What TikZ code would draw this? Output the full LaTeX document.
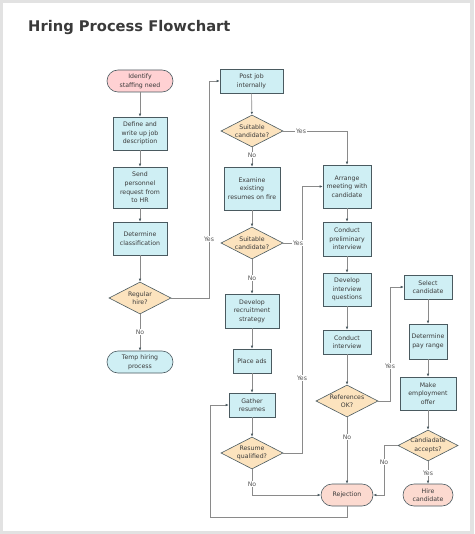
\documentclass[tikz,border=0pt]{standalone}
\usepackage{fontspec}
\setmainfont{DejaVu Sans}
\usetikzlibrary{arrows.meta,shapes.geometric}
\definecolor{procfill}{HTML}{CFEFF4}
\definecolor{bordc}{HTML}{4A5A60}
\definecolor{decfill}{HTML}{FCE3BE}
\definecolor{pinkfill}{HTML}{FFD1D3}
\definecolor{salfill}{HTML}{FCDAD0}
\definecolor{linec}{HTML}{8A8A8A}
\definecolor{txt}{HTML}{3A3A3A}
\definecolor{lblc}{HTML}{555555}
\definecolor{framec}{HTML}{E2E2E2}
\begin{document}
\begin{tikzpicture}[x=1pt,y=-1pt,
  base/.style={draw=bordc, line width=0.6pt, align=center, text=txt,
    font=\fontsize{6.2}{8.6}\selectfont, inner sep=0pt},
  procbox/.style 2 args={base, rectangle, fill=procfill, minimum width=#1, minimum height=#2},
  decbox/.style={base, diamond, fill=decfill, minimum width=62, minimum height=32, inner xsep=-12pt, inner ysep=-4pt},
  termbox/.style 2 args={base, rectangle, rounded corners=11pt, fill=#2, minimum width=#1, minimum height=22},
  arr/.style={draw=linec, line width=0.6pt, -{Latex[length=3pt,width=2.6pt,color=bordc]}},
  conn/.style={draw=linec, line width=0.6pt},
  lbl/.style={fill=white, inner sep=0.6pt, text=lblc, font=\fontsize{6.2}{7}\selectfont}
]
\fill[framec] (0,0) rectangle (474,534);
\fill[white] (3,3) rectangle (470,531);
\useasboundingbox (0,0) rectangle (474,534);

\node[anchor=west, inner sep=0pt, text=txt, font=\fontsize{14.7}{17}\selectfont\bfseries] (title) at (28,28) {Hring Process Flowchart};

% column 1
\node[termbox={66}{pinkfill}] (identify) at (140,81) {Identify\\staffing need};
\node[procbox={54}{33}] (define) at (140,133.5) {Define and\\write up job\\description};
\node[procbox={54}{41}] (send) at (140,187.5) {Send\\personnel\\request from\\to HR};
\node[procbox={54}{33}] (classif) at (140,238.5) {Determine\\classification};
\node[decbox] (regular) at (140,298) {Regular\\hire?};
\node[termbox={66}{procfill}] (temp) at (140,362) {Temp hiring\\process};

% column 2
\node[procbox={63}{24}] (post) at (251.5,81) {Post job\\internally};
\node[decbox] (suit1) at (252,131) {Suitable\\candidate?};
\node[procbox={56}{43}] (examine) at (252,188.5) {Examine\\existing\\resumes on fire};
\node[decbox] (suit2) at (252,243) {Suitable\\candidate?};
\node[procbox={54}{34}] (strategy) at (252,311) {Develop\\recruitment\\strategy};
\node[procbox={38}{24}] (ads) at (252,361) {Place ads};
\node[procbox={46}{24}] (gather) at (252,405) {Gather\\resumes};
\node[decbox] (qualified) at (252,453) {Resume\\qualified?};

% column 3
\node[procbox={48}{43}] (arrange) at (347,186.5) {Arrange\\meeting with\\candidate};
\node[procbox={48}{34}] (prelim) at (347,239) {Conduct\\preliminary\\interview};
\node[procbox={48}{33}] (questions) at (347,289.5) {Develop\\interview\\questions};
\node[procbox={48}{24}] (interview) at (347,342) {Conduct\\interview};
\node[decbox] (refs) at (347,401) {References\\OK?};
\node[termbox={52}{salfill}] (reject) at (347,495) {Rejection};

% column 4
\node[procbox={48}{24}] (select) at (428,287) {Select\\candidate};
\node[procbox={38}{35}] (pay) at (428,341.5) {Determine\\pay range};
\node[procbox={56}{33}] (offer) at (428,393.5) {Make\\employment\\offer};
\node[decbox, minimum width=60, minimum height=31] (accepts) at (428,445.5) {Candiadate\\accepts?};
\node[termbox={50}{salfill}] (hire) at (428,495) {Hire\\candidate};

% helper coordinates
\coordinate (yesbend) at (209,298);
\coordinate (join) at (302,243);
\coordinate (qbend) at (302,453);
\coordinate (loop) at (210,517);
\coordinate (refbend) at (390,401);
\coordinate (accbend) at (384,445.5);

% connectors column 1
\draw[arr] (identify) -- (define);
\draw[arr] (define) -- (send);
\draw[arr] (send) -- (classif);
\draw[arr] (classif) -- (regular);
\draw[arr] (regular) -- (temp);
\draw[arr] (regular.east) -- (yesbend) |- (post.west);

% column 2
\draw[arr] (post) -- (suit1);
\draw[arr] (suit1.east) -| (arrange.north);
\draw[arr] (suit1) -- (examine);
\draw[arr] (examine) -- (suit2);
\draw[conn] (suit2.east) -- (join);
\draw[arr] (suit2) -- (strategy);
\draw[arr] (strategy) -- (ads);
\draw[arr] (ads) -- (gather);
\draw[arr] (gather) -- (qualified);
\draw[arr] (qualified.east) -- (qbend) |- (arrange.west);
\draw[arr] (qualified.south) |- (reject.west);
\draw[arr] (reject.south) |- (loop) |- (gather.west);

% column 3
\draw[arr] (arrange) -- (prelim);
\draw[arr] (prelim) -- (questions);
\draw[arr] (questions) -- (interview);
\draw[arr] (interview) -- (refs);
\draw[arr] (refs) -- (reject);
\draw[arr] (refs.east) -- (refbend) |- (select.west);

% column 4
\draw[arr] (select) -- (pay);
\draw[arr] (pay) -- (offer);
\draw[arr] (offer) -- (accepts);
\draw[arr] (accepts) -- (hire);
\draw[arr] (accepts.west) -- (accbend) |- (reject.east);

% labels
\node[lbl] (l1) at (140,332) {No};
\node[lbl] (l2) at (209,239) {Yes};
\node[lbl] (l3) at (301,131) {Yes};
\node[lbl] (l4) at (252,155) {No};
\node[lbl] (l5) at (298,243) {Yes};
\node[lbl] (l6) at (252,278) {No};
\node[lbl] (l7) at (302,378) {Yes};
\node[lbl] (l8) at (252,484) {No};
\node[lbl] (l9) at (347,437) {No};
\node[lbl] (l10) at (390,366) {Yes};
\node[lbl] (l11) at (384,462) {No};
\node[lbl] (l12) at (428,473) {Yes};
\end{tikzpicture}
\end{document}
